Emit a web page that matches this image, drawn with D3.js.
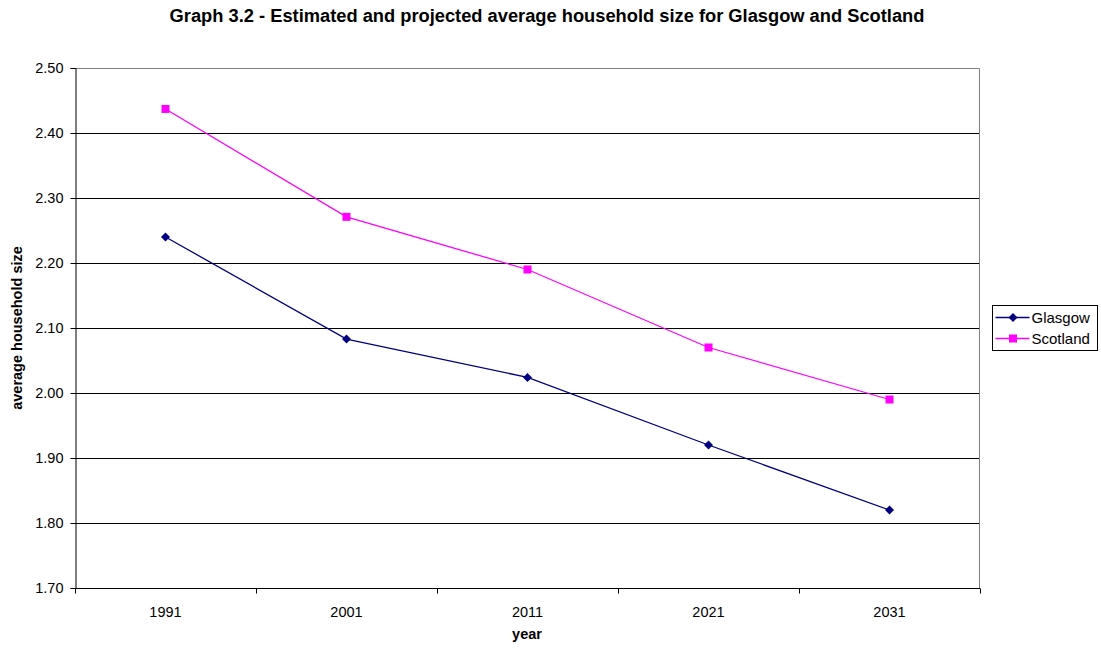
<!DOCTYPE html>
<html>
<head>
<meta charset="utf-8">
<script src="https://cdn.jsdelivr.net/npm/d3@7"></script>
<style>
  body { margin: 0; background: #fff; }
  svg { display: block; font-family: Arial, "Liberation Sans", sans-serif; }
</style>
</head>
<body>
<svg id="chart" width="1101" height="648"></svg>
<script>
// Census years and projections
const years = ["1991", "2001", "2011", "2021", "2031"];
const glasgow = [2.24, 2.083, 2.024, 1.92, 1.82];
const scotland = [2.437, 2.271, 2.19, 2.07, 1.99];
const yTicks = [1.70, 1.80, 1.90, 2.00, 2.10, 2.20, 2.30, 2.40, 2.50];

const series = [
  { name: "Glasgow", values: glasgow, color: "#000080", marker: "diamond" },
  { name: "Scotland", values: scotland, color: "#FF00FF", marker: "square" }
];

const svg = d3.select("#chart");
const plot = { left: 75, right: 980, top: 68, bottom: 588 };
const FONT = 14.5;

const x = d3.scaleBand().domain(years).range([plot.left, plot.right]);
const y = d3.scaleLinear().domain([1.70, 2.50]).range([plot.bottom, plot.top]);

// Title
svg.append("text")
  .attr("x", 547).attr("y", 22)
  .attr("text-anchor", "middle")
  .attr("font-size", 18.3).attr("font-weight", "bold")
  .text("Graph 3.2 - Estimated and projected average household size for Glasgow and Scotland");

// Horizontal gridlines
svg.append("g")
  .selectAll("line")
  .data(yTicks.filter(t => t > 1.70 && t < 2.50))
  .join("line")
  .attr("x1", plot.left).attr("x2", plot.right)
  .attr("y1", d => Math.round(y(d)) + 0.5).attr("y2", d => Math.round(y(d)) + 0.5)
  .attr("stroke", "#000").attr("stroke-width", 1);

// Plot area frame (top and right)
svg.append("path")
  .attr("d", `M${plot.left},${plot.top + 0.5}H${plot.right - 0.5}V${plot.bottom}`)
  .attr("fill", "none").attr("stroke", "#808080").attr("stroke-width", 1);

// Y axis
const yAxis = d3.axisLeft(y).tickValues(yTicks).tickFormat(d3.format(".2f")).tickSize(5).tickPadding(7);
const gy = svg.append("g").attr("transform", `translate(${plot.left + 0.5},0)`).call(yAxis);
gy.select(".domain").attr("stroke", "#000");
gy.selectAll(".tick line").attr("stroke", "#000");
gy.selectAll("text").attr("font-size", FONT).attr("font-family", "Arial, 'Liberation Sans', sans-serif").attr("fill", "#000");

// X axis with tick marks at category boundaries
const gx = svg.append("g").attr("transform", `translate(0,${plot.bottom + 0.5})`);
gx.append("line")
  .attr("x1", plot.left).attr("x2", plot.right)
  .attr("stroke", "#000");
const bounds = years.map(d => x(d)).concat([plot.right]);
gx.selectAll(".bt")
  .data(bounds)
  .join("line")
  .attr("x1", d => Math.round(d) + 0.5).attr("x2", d => Math.round(d) + 0.5)
  .attr("y1", 0).attr("y2", 5)
  .attr("stroke", "#000");
gx.selectAll(".lbl")
  .data(years)
  .join("text")
  .attr("x", d => x(d) + x.bandwidth() / 2)
  .attr("y", 28)
  .attr("text-anchor", "middle")
  .attr("font-size", FONT)
  .text(d => d);

// Axis titles
svg.append("text")
  .attr("x", 527).attr("y", 639)
  .attr("text-anchor", "middle")
  .attr("font-size", FONT).attr("font-weight", "bold")
  .text("year");
svg.append("text")
  .attr("transform", `translate(22,${(plot.top + plot.bottom) / 2}) rotate(-90)`)
  .attr("text-anchor", "middle")
  .attr("font-size", FONT).attr("font-weight", "bold")
  .text("average household size");

// Lines and markers
const cx = d => x(d) + x.bandwidth() / 2;
const line = d3.line().x((v, i) => cx(years[i])).y(v => y(v));

function drawMarker(g, type, color, size) {
  if (type === "square") {
    g.append("rect")
      .attr("x", -size / 2).attr("y", -size / 2)
      .attr("width", size).attr("height", size)
      .attr("fill", color);
  } else {
    const s = size / 2 + 0.5;
    g.append("path")
      .attr("d", `M0,${-s}L${s},0L0,${s}L${-s},0Z`)
      .attr("fill", color);
  }
}

series.forEach(s => {
  svg.append("path")
    .datum(s.values)
    .attr("d", line)
    .attr("fill", "none")
    .attr("stroke", s.color)
    .attr("stroke-width", 1.3);
  s.values.forEach((v, i) => {
    const g = svg.append("g").attr("transform", `translate(${cx(years[i])},${y(v)})`);
    drawMarker(g, s.marker, s.color, 8);
  });
});

// Legend
const leg = svg.append("g").attr("transform", "translate(992.5,305.5)");
leg.append("rect")
  .attr("width", 105).attr("height", 45)
  .attr("fill", "#fff").attr("stroke", "#000");
series.forEach((s, i) => {
  const ly = 12 + i * 21;
  leg.append("line")
    .attr("x1", 3).attr("x2", 37)
    .attr("y1", ly).attr("y2", ly)
    .attr("stroke", s.color).attr("stroke-width", 1.3);
  const g = leg.append("g").attr("transform", `translate(20.5,${ly})`);
  drawMarker(g, s.marker, s.color, 8);
  leg.append("text")
    .attr("x", 39).attr("y", ly + 5)
    .attr("font-size", FONT + 0.5)
    .text(s.name);
});
</script>
</body>
</html>
